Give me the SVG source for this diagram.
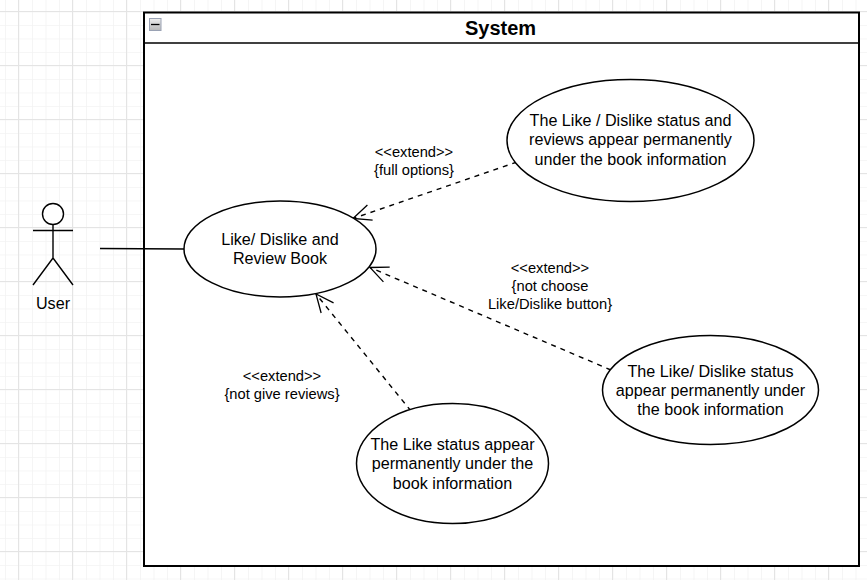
<svg xmlns="http://www.w3.org/2000/svg" width="867" height="580" viewBox="0 0 867 580">
<defs>
<pattern id="minor" width="13.5" height="13.5" patternUnits="userSpaceOnUse" x="5" y="11.5">
<path d="M0 .25H13.5M.25 0V13.5" fill="none" stroke="#f3f3f3" stroke-width="1"/>
</pattern>
<pattern id="major" width="54" height="54" patternUnits="userSpaceOnUse" x="18" y="11">
<path d="M0 .5H54M.5 0V54" fill="none" stroke="#e4e4e4" stroke-width="1"/>
</pattern>
<linearGradient id="btn" x1="0" y1="0" x2="0" y2="1"><stop offset="0" stop-color="#eeeeee"/><stop offset="1" stop-color="#b8b8b8"/></linearGradient>
<marker id="open" markerUnits="userSpaceOnUse" markerWidth="26" markerHeight="26" refX="21" refY="13" orient="auto">
<path d="M3 5L21 13L3 21" fill="none" stroke="#000" stroke-width="1.3"/>
</marker>
</defs>
<style>
text{font-family:"Liberation Sans",Arial,sans-serif;fill:#000;text-anchor:middle}
.uc{font-size:16.15px}
.lb{font-size:14.7px}
.shape{fill:#fff;stroke:#000;stroke-width:1.5}
.ext{fill:none;stroke:#000;stroke-width:1.4;stroke-dasharray:5 5;marker-end:url(#open)}
.line{fill:none;stroke:#000;stroke-width:1.4}
</style>
<rect width="867" height="580" fill="#fff"/>
<rect width="867" height="580" fill="url(#minor)"/>
<rect width="867" height="580" fill="url(#major)"/>
<g id="system">
<rect x="144" y="12.500" width="715" height="553.500" fill="#fff" stroke="#000" stroke-width="2"/>
<path d="M144 43H859" stroke="#000" stroke-width="1.500"/>
<rect x="149.500" y="18.500" width="11.500" height="12" fill="url(#btn)" stroke="#9aa2b4" stroke-width="1"/>
<path d="M151 24.500H159.500" stroke="#000" stroke-width="1.300"/>
<text x="500.500" y="35" font-size="20" font-weight="bold">System</text>
</g>
<g id="connectors">
<path class="line" d="M100 248.500L184 249"/>
<path class="ext" d="M517 162L353 218.500"/>
<path class="ext" d="M611 370L370 267.500"/>
<path class="ext" d="M411 411L316 294"/>
</g>
<g id="user">
<circle cx="53" cy="214" r="10.500" fill="#fff" stroke="#000" stroke-width="1.400"/>
<path class="line" d="M53 224.500V258M33 230.500H73M33 285L53 258L73 285"/>
<text class="uc" x="53" y="309">User</text>
</g>
<g id="uc-review">
<ellipse class="shape" cx="280" cy="249" rx="96" ry="48"/>
<text class="uc" x="280" y="245">Like/ Dislike and</text>
<text class="uc" x="280" y="264">Review Book</text>
</g>
<g id="uc-full">
<ellipse class="shape" cx="630.500" cy="140.500" rx="123.500" ry="61"/>
<text class="uc" x="630.500" y="126">The Like / Dislike status and</text>
<text class="uc" x="630.500" y="145">reviews appear permanently</text>
<text class="uc" x="630.500" y="165">under the book information</text>
</g>
<g id="uc-status">
<ellipse class="shape" cx="710.500" cy="390" rx="108" ry="54.500"/>
<text class="uc" x="710.500" y="377">The Like/ Dislike status</text>
<text class="uc" x="710.500" y="396">appear permanently under</text>
<text class="uc" x="710.500" y="415">the book information</text>
</g>
<g id="uc-like">
<ellipse class="shape" cx="452.500" cy="463.500" rx="96" ry="60"/>
<text class="uc" x="452.500" y="450">The Like status appear</text>
<text class="uc" x="452.500" y="469">permanently under the</text>
<text class="uc" x="452.500" y="489">book information</text>
</g>
<g id="labels">
<text class="lb" x="414" y="157">&lt;&lt;extend&gt;&gt;</text>
<text class="lb" x="414" y="175">{full options}</text>
<text class="lb" x="550" y="273">&lt;&lt;extend&gt;&gt;</text>
<text class="lb" x="550" y="291">{not choose</text>
<text class="lb" x="550" y="309">Like/Dislike button}</text>
<text class="lb" x="282" y="381">&lt;&lt;extend&gt;&gt;</text>
<text class="lb" x="282" y="399">{not give reviews}</text>
</g>
</svg>
